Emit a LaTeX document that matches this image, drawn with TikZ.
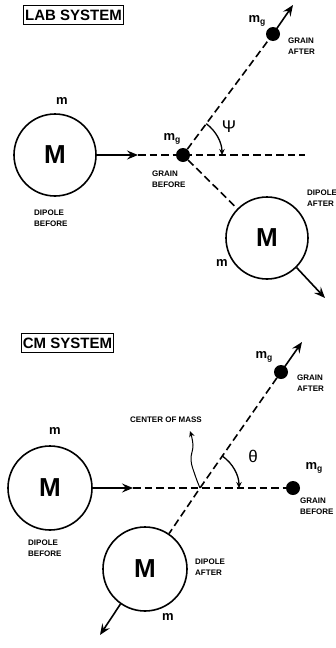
\documentclass[tikz,border=0pt]{standalone}
\usepackage{fontspec}
\setmainfont{Liberation Sans}
\usetikzlibrary{arrows.meta,calc}
\begin{document}
\begin{tikzpicture}[x=1pt,y=1pt,
  body/.style={circle,draw,line width=1.6pt,minimum size=#1,inner sep=0pt,font=\bfseries\fontsize{26}{26}\selectfont},
  grain/.style={circle,fill=black,minimum size=14pt,inner sep=0pt},
  dsh/.style={line width=1.6pt,dash pattern=on 7.5pt off 4pt},
  mv/.style={line width=1.6pt,-{Stealth[length=11pt,width=9pt,inset=4pt]}},
  arcarr/.style={line width=1.3pt,-{Stealth[length=6pt,width=5.5pt,inset=2pt]}},
  small/.style={font=\bfseries\fontsize{8}{11}\selectfont,align=left,anchor=west,inner sep=0pt},
  mlab/.style={font=\bfseries\fontsize{13}{13}\selectfont,inner sep=0pt},
  title/.style={draw,line width=1pt,font=\bfseries\fontsize{15}{15}\selectfont,inner sep=1.5pt,minimum height=19pt,text height=11pt,text depth=0pt},
  greek/.style={font=\fontsize{17}{17}\selectfont,inner sep=0pt}
]
\useasboundingbox (0,0) rectangle (336,-648);
\newcommand{\mg}{m\raisebox{-0.35ex}{\fontsize{8.5}{8.5}\selectfont g}}

% ---------------- LAB SYSTEM ----------------
\node[title] (labt) at (73.5,-15) {LAB SYSTEM};
\node[body=82pt] (A) at (55,-155) {M};
\node[mlab] (Am) at (62,-101) {m};
\node[small] (Ab) at (34,-218.5) {DIPOLE\\BEFORE};
\coordinate (A1) at (138,-155);
\coordinate (A2) at (305,-155);
\node[grain] (G1) at (183,-155) {};
\node[grain] (G2) at (273,-34) {};
\coordinate (G2t) at (293,-5);
\node[body=82pt] (D1) at (267,-238) {M};
\coordinate (D1t) at (325,-298);
\draw[dsh] (A1) -- (A2);
\draw[dsh] (G1) -- (G2);
\draw[dsh] (G1) -- (D1);
\draw[mv] (A.east) -- (A1);
\draw[mv] (G2.center) -- (G2t);
\draw[mv] (D1.-45) -- (D1t);
\draw[arcarr] ($(G1.center)+(53.4:39)$) arc[start angle=53.4,end angle=0,radius=39];
\node[greek] (psi) at (229,-127) {Ψ};
\node[mlab] (G1m) at (172,-139) {\mg};
\node[small] (G1b) at (152,-179) {GRAIN\\BEFORE};
\node[mlab] (G2m) at (257,-21) {\mg};
\node[small] (G2a) at (288,-46) {GRAIN\\AFTER};
\node[mlab] (D1m) at (222,-263) {m};
\node[small] (D1a) at (307,-198.5) {DIPOLE\\AFTER};

% ---------------- CM SYSTEM ----------------
\node[title] (cmt) at (67.5,-342.5) {CM SYSTEM};
\node[body=84pt] (C) at (50,-488) {M};
\node[mlab] (Cm) at (55,-431) {m};
\node[small] (Cb) at (28,-548.5) {DIPOLE\\BEFORE};
\coordinate (C1) at (133,-488);
\coordinate (CM) at (200,-488);
\node[grain] (G3) at (293,-488) {};
\node[grain] (G4) at (281,-372) {};
\coordinate (G4t) at (302,-342);
\node[body=84pt] (D2) at (145,-569) {M};
\coordinate (D2t) at (100,-635);
\draw[dsh] (C1) -- (G3);
\draw[dsh] (G4) -- (CM) -- (D2);
\draw[mv] (C.east) -- (C1);
\draw[mv] (G4.center) -- (G4t);
\draw[mv] (D2.235.7) -- (D2t);
\draw[arcarr] ($(CM)+(55.1:39)$) arc[start angle=55.1,end angle=0,radius=39];
\node[greek] (theta) at (253,-456) {θ};
\node[mlab] (G3m) at (314,-468) {\mg};
\node[small] (G3b) at (300,-506.5) {GRAIN\\BEFORE};
\node[mlab] (G4m) at (264,-357) {\mg};
\node[small] (G4a) at (297,-383) {GRAIN\\AFTER};
\node[mlab] (D2m) at (168,-617) {m};
\node[small] (D2a) at (195,-567.5) {DIPOLE\\AFTER};
\node[font=\bfseries\fontsize{8}{8}\selectfont,inner sep=0pt] (cml) at (166,-420) {CENTER OF MASS};
\draw[line width=1pt,-{Stealth[length=6pt,width=5.5pt,inset=2pt]}] plot[smooth,tension=0.7] coordinates {(CM) (195,-475) (191,-460) (193,-445) (190,-431)};
\end{tikzpicture}
\end{document}
